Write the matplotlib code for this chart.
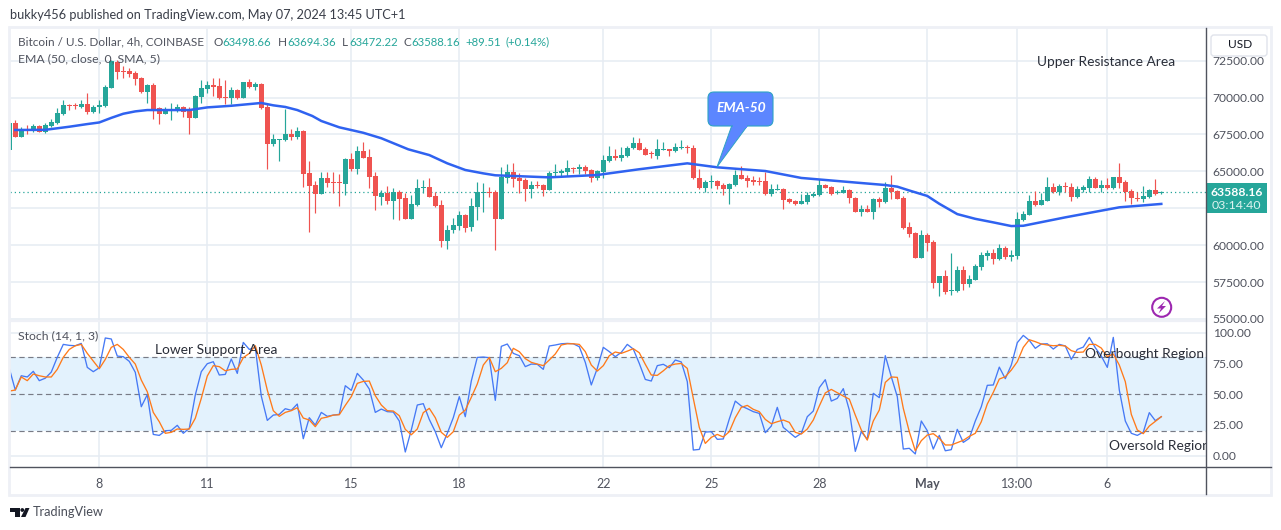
import numpy as np
import matplotlib
matplotlib.use("Agg")
import matplotlib.pyplot as plt
from matplotlib.patches import Circle, FancyBboxPatch, Polygon, Rectangle

# candle data, index -1 is the candle cut off at the left edge
opens = [66440,
    68270,67320,67850,67730,68070,67660,68070,68270,68880,
    69490,69490,69360,69560,69020,69330,69420,70640,72410,71800,
    71800,71660,71320,70370,70850,69290,68880,69090,69090,69360,
    69150,68610,70030,70580,70850,70780,70030,69970,70510,69970,
    71050,70710,70920,69360,66850,67120,67120,67530,67320,67730,
    64880,64070,63460,64550,64270,64270,64140,65830,65160,66370,
    65970,64680,63260,63530,62990,63600,63190,61770,62720,63870,
    63940,63330,62720,60280,61020,61290,62040,61230,62580,63530,
    63600,63600,61770,64550,64950,64550,64410,63800,64070,64070,
    63730,64880,64880,64950,65220,65160,65290,65090,64550,64950,
    65700,66030,65900,66030,66580,66920,66510,66240,66030,66440,
    66510,66370,66580,66640,66580,64550,63870,64270,64340,64070,
    63800,64070,64750,64550,64410,64340,64340,63460,63730,63800,
    63120,62990,62790,62920,63330,63390,64070,63940,63530,63530,
    63730,63190,62240,62450,62240,63120,62920,63870,63670,63190,
    61230,60820,59130,60690,60210,57430,57910,56890,56890,58310,
    57360,57640,58520,59260,59470,59060,59800,59190,59260,61700,
    62040,62990,62720,62990,63940,63600,64000,63940,63260,63730,
    63870,64480,63870,64070,63870,64610,64270,63670,63190,63120,
    63260,63730,63498.66]
highs = [68270,
    68480,68000,68140,68200,68140,68270,68540,69290,69830,
    69530,69600,69860,70300,69490,69830,70850,72540,72540,72130,
    72000,71800,71390,70920,70980,69360,69360,69630,69560,69420,
    69360,70170,71190,71120,71320,71320,71190,70710,70580,71050,
    71250,71050,70980,69630,67530,67190,69220,67860,68000,67800,
    65700,64340,64950,64950,64950,64820,65900,66240,66710,66980,
    66510,64950,63730,64000,63870,63730,63530,63390,64480,64410,
    64550,63600,63060,61360,61840,62310,62110,63190,64270,64210,
    63940,63730,65290,65490,65560,64880,64550,64340,64340,64140,
    65020,65490,65160,65770,65290,65490,65430,65160,65090,66100,
    66710,66510,66640,66710,67320,67250,66640,66370,67190,66980,
    66510,66920,67120,66780,66780,65160,64410,64750,64410,64210,
    64210,65090,65360,64750,64680,64610,64950,64140,64140,63870,
    63190,63060,63460,63600,63600,64480,64140,64000,63730,64000,
    63800,63260,62720,62720,63190,63260,64270,64750,63730,63330,
    61570,60890,61020,60820,60350,57910,58310,59470,58580,58580,
    57970,58720,59530,59670,59740,60080,59940,59670,62240,62310,
    63390,63670,63530,64610,64210,64140,64270,64210,64000,64070,
    64680,64610,64410,64550,64610,65560,64410,63800,63600,64000,
    63800,64480,63694.36]
lows = [66440,
    67320,67320,67530,67660,67660,67590,68000,68200,68810,
    69150,69220,69290,68880,68950,68950,69360,70640,71250,71320,
    71390,70850,70300,69630,68540,68200,68880,68480,69020,68680,
    67530,68610,69630,70300,70100,69900,69560,69560,69900,69970,
    70640,70510,69220,65160,66710,65700,67050,67120,67190,63940,
    60890,62180,63460,63940,63530,62650,63390,65020,64820,65900,
    63870,62380,62720,62790,61770,61700,61770,61770,62650,63530,
    63260,62580,59870,59740,60820,61020,60890,60960,61700,62240,
    63260,59670,61770,64210,63940,63530,62990,63190,63870,63330,
    63730,64680,64680,64680,64880,64820,64820,64270,64410,64550,
    65630,65770,65700,65970,66510,66440,66100,65900,65830,66440,
    66030,66310,66510,66240,64480,63800,63600,63870,63800,63390,
    62790,64000,64480,63940,64070,64070,63390,63330,63730,62450,
    62850,62720,62790,62790,63260,63330,63870,63390,63460,63530,
    62850,62240,61970,62240,61770,62580,62850,63120,63120,61090,
    60550,59130,59130,59600,57090,56550,56690,56620,56820,56960,
    57160,57640,58310,58990,58720,58990,59060,58920,59060,61630,
    62040,62650,62720,62990,63530,63390,63600,62990,63190,63600,
    63600,63870,63600,63800,63800,63870,62990,62790,62990,62920,
    63190,63390,63472.22]
closes = [68270,
    67320,67860,67800,68070,67660,68140,68340,68950,69490,
    69420,69420,69560,69020,69360,69490,70710,72440,71730,71730,
    71590,71250,70370,70850,69220,68880,69150,69150,69360,69020,
    68610,70100,70640,70850,70710,69970,69980,70510,69970,71050,
    70710,70920,69290,66850,67190,67190,67530,67320,67730,64850,
    64000,63460,64550,64210,64220,64220,65830,65160,66370,65900,
    64610,63330,63530,62990,63600,63120,61770,62790,63870,63940,
    63260,62650,60280,61020,61360,62040,61160,62650,63600,63600,
    63530,61770,64610,64950,64480,64340,63800,64070,64010,63730,
    64880,64950,65020,65220,65160,65290,65020,64550,65020,65770,
    66030,65900,66100,66580,66920,66440,66100,66170,66510,66510,
    66370,66640,66640,66580,64550,63870,64270,64340,64000,63800,
    64140,64750,64480,64340,64270,64280,63460,63800,63800,63060,
    62920,62790,62990,63390,63460,64070,63870,63460,63600,63730,
    63190,62240,62450,62240,63120,62920,63870,63600,63120,61160,
    60750,59130,60690,60140,57430,57910,56820,56960,58310,57360,
    57700,58580,59330,59470,59060,59800,59190,59330,61770,62110,
    62990,62720,63060,63940,63600,64000,63940,63260,63800,63940,
    64480,63870,64070,63870,64610,64210,63600,63190,63130,63330,
    63730,63460,63588.16]

# EMA 50, read at the bends
ema_idx = [0,5,9,12,14,16,18,20,22,29,32,36,41,43,45,47,49.5,51,54,58,61,65.5,69,72,75,78,80,
           89,97,104,112,117,125,131,140,145,147,149,152,154,157,160,163,166,168,175,184,191]
ema_val = [67800,67810,68020,68200,68310,68620,68900,69060,69150,69150,69330,69440,69630,69470,
           69360,69150,68750,68410,67980,67610,67240,66490,66100,65540,65090,64860,64730,
           64590,64750,65140,65540,65270,65020,64550,64240,64070,63960,63700,63330,62800,
           62100,61780,61540,61290,61310,61880,62560,62790]

stoch_k = [71,
    53.4,65,64,68.6,61,63,68,80,90.5,
    89.7,89.4,91.3,71.8,68.3,71.5,95.7,94.9,81,80.5,
    76.7,67.8,39.8,49.6,17.3,16.5,20.3,20.6,24.7,18.2,
    22.2,49.3,68.3,74.8,76.4,65.6,66.1,78.6,66.9,92.1,
    86.4,88.1,48.5,28.7,33,33.6,38.2,36.9,42,13.8,
    30.9,24.9,35.2,32,33,33.6,56.9,53.1,66.9,61.5,
    54.2,35.2,37.9,35.8,35.5,28.2,3,20.9,41.2,42.3,
    29.5,19.5,6.5,18.2,30.9,48,31.7,60.7,79.9,80.2,
    79.7,45,88.9,90.8,83.2,81.3,72.4,74.5,74.3,70.2,
    89.2,90,91,91.3,91,88.6,75.9,57.5,71,88.1,
    84.6,80.5,84,90.5,86.7,75,62,60.7,73.2,74.3,
    71.5,77.8,76.2,60.2,4.6,5.1,19.2,19.5,13.3,13.6,
    29.8,44.4,40.4,38.2,35.8,34.4,18.7,24.1,39.3,23,
    19,14.9,18.2,31.7,36.3,55.3,61.8,44.4,46.6,54.5,
    37.1,3.5,19.5,13.3,50.7,47.2,81.3,64.2,48,5.4,
    6,1.4,28.2,20.3,5.4,16.5,4,4.9,21.4,10.8,
    14.1,28.2,39.8,57.2,57.5,72,62.6,73.7,91.9,97.8,
    93.8,87.3,90.8,91,86.7,90.5,89.2,78.3,86.4,88.3,
    96.2,87.8,81,71.8,96.2,53.4,28.2,18.2,16.5,19.2,
    35,28.5,31.7]
stoch_d = [52.5,
    53.4,64,61,66.4,65,64,64,70.2,80,
    86.4,89.4,90.5,83.2,77,70.7,78.3,88.1,90.5,86.4,
    80,74.5,61.5,52,35.2,27.6,18.2,19,21.7,21.4,
    21.7,30.4,46.6,64.8,73.2,72.4,69,70.2,70.5,79.7,
    83.2,89.4,73.7,53.4,36.6,32,35.2,36.6,39,30.6,
    29,23.6,30.4,31.4,33,33.3,40.9,48,58.8,60.4,
    60.7,48.8,41.2,36.6,36.3,32.5,21.4,17,21.7,35,
    38.5,30.9,19,14.9,19.5,33,37.1,47.4,58.3,73.7,
    79.9,68.3,71,75.6,87.3,84.6,78.9,75.9,74.5,73.2,
    77.8,82.7,90,91,91,90.5,84.6,73.7,68.8,73.2,
    81.3,84.3,83.2,85,87,83.7,74.3,65.6,65.3,69,
    73.2,74.5,75,71,46.6,23,10,14.9,17.3,15.2,
    19.5,30.9,39.3,40.9,37.7,35.8,29.5,26,27.6,29,
    27.1,19,17.6,21.7,29,40.4,51,53.9,51.2,48.5,
    46,33,20.9,12.7,28.2,37.1,59.6,64,63.7,38.5,
    19.5,4,12.2,16.8,17.9,14.1,8.7,8.7,10.6,12.5,
    15.7,18.2,27.6,42,51.5,62.3,64.2,69.6,76.4,88.1,
    94.3,92.7,90.8,90,89.4,89.7,89.2,85.4,84,84.3,
    90.5,90.5,87.5,80.5,82.7,73.7,60.2,33.6,20.9,17.9,
    24.1,27.9,31.7]

price_ticks = [55000,57500,60000,62500,65000,67500,70000,72500]
price_labels = ["55000.00","57500.00","60000.00","","65000.00","67500.00","70000.00","72500.00"]
stoch_ticks = [0,25,50,75,100]
time_pos = [14,32,56,74,98,116,134,152,167,182]
time_labels = ["8","11","15","18","22","25","28","May","13:00","6"]

W, H = 1281, 530
UP = "#26A69A"
DOWN = "#EF5350"
GRID = "#E6ECF3"
TEXT = "#50535E"
FRAME = "#EEF0F6"
plt.rcParams["font.family"] = "Lato"


def ax_px(left, top, right, bottom):
    return fig.add_axes([left / W, 1 - bottom / H, (right - left) / W, (bottom - top) / H])


fig = plt.figure(figsize=(W / 100, H / 100), dpi=100, facecolor="white")
main = ax_px(10, 28, 1205.7, 320)
stoch = ax_px(10, 322, 1205.7, 467)
xlim = (-0.88, 198.4)

idx = np.arange(-1, len(opens) - 1)
o, h, l, c = map(np.array, (opens, highs, lows, closes))
colors = [UP if cc >= oo else DOWN for oo, cc in zip(o, c)]

# candles
main.vlines(idx, l, h, colors=colors, linewidth=0.85, zorder=3)
main.bar(idx, np.maximum(np.abs(c - o), 68), bottom=np.minimum(o, c), width=0.88,
         color=colors, linewidth=0, zorder=3)
main.plot(ema_idx, ema_val, color="#2F62F0", lw=1.8, zorder=4, solid_joinstyle="round")
main.axhline(closes[-1], color=UP, lw=0.9, ls=(0, (1, 2.4)), zorder=2)
main.set_xlim(xlim)
main.set_ylim(54926, 74709)
main.set_yticks(price_ticks)
main.set_yticklabels(price_labels)

# stochastic pane
stoch.axhspan(20, 80, color="#E3F2FD", lw=0, zorder=1)
for level in [20, 50, 80]:
    stoch.axhline(level, color="#787B86", lw=0.85, ls=(0, (4.5, 3)), zorder=2)
stoch.plot(idx, stoch_k, color="#4679F5", lw=0.95, zorder=3)
stoch.plot(idx, stoch_d, color="#FF7A1A", lw=0.95, zorder=4)
stoch.set_xlim(xlim)
stoch.set_ylim(-9.2, 108.7)
stoch.set_yticks(stoch_ticks)
stoch.set_yticklabels(["%.2f" % v for v in stoch_ticks])
stoch.set_xticks(time_pos)
stoch.set_xticklabels(time_labels)
for lab in stoch.get_xticklabels():
    if lab.get_text() == "May":
        lab.set_fontweight("bold")

for ax in (main, stoch):
    for s in ax.spines.values():
        s.set_visible(False)
    ax.yaxis.tick_right()
    ax.set_axisbelow(True)
    ax.set_xticks(time_pos)
    ax.grid(True, color=GRID, lw=1.1)
    ax.tick_params(axis="both", length=0, labelsize=8.7, labelcolor=TEXT, pad=5)
main.tick_params(axis="x", labelbottom=False)
stoch.tick_params(axis="x", labelsize=9, pad=8)

stoch.text(182.3, 8.0, "Oversold Region", fontsize=9.9, color="#2A2E39", va="center", clip_on=True, zorder=6)

# overlay in pixels for frame, legend texts and drawings
ov = fig.add_axes([0, 0, 1, 1], zorder=10)
ov.set_xlim(0, W)
ov.set_ylim(H, 0)
ov.axis("off")
ov.patch.set_alpha(0)

ov.add_patch(Rectangle((9, 27), 1262, 468, fill=False, ec=FRAME, lw=2))
ov.plot([10, 1205.7], [321, 321], color=FRAME, lw=1.6)
ov.plot([10, 1271], [467, 467], color=TEXT, lw=1)
ov.plot([1205.7, 1205.7], [28, 494], color=TEXT, lw=1)


def label(x, y, s, color=TEXT, size=8.8, **kw):
    ov.text(x, y, s, color=color, fontsize=size, va="center", **kw)


label(10, 15, "bukky456 published on TradingView.com, May 07, 2024 13:45 UTC+1", color="#3A3E49", size=9.15)
label(18, 42, "Bitcoin / U.S. Dollar, 4h, COINBASE", size=8.5)
label(18, 59, "EMA (50, close, 0, SMA, 5)")
label(18, 336, "Stoch (14, 1, 3)")
for x, s in [(213, "O"), (278, "H"), (342, "L"), (403, "C")]:
    label(x, 42, s, size=8.5)
for x, s in [(222, "63498.66"), (287, "63694.36"), (349, "63472.22"), (411, "63588.16"),
             (465, "+89.51"), (505, "(+0.14%)")]:
    label(x, 42, s, color=UP, size=8.2)

label(1037, 61.5, "Upper Resistance Area", color="#2A2E39", size=9.9)
label(155, 350.5, "Lower Support Area", color="#2A2E39", size=9.9)
label(1085, 353.5, "Overbought Region", color="#2A2E39", size=9.9)

# price tag
ov.add_patch(Rectangle((1206, 183), 61, 30, color=UP, lw=0))
label(1236.5, 192, "63588.16", color="white", size=8.7, fontweight="bold", ha="center")
label(1236.5, 205.5, "03:14:40", color="#DDF3F0", size=8.9, ha="center")

# USD button
ov.add_patch(FancyBboxPatch((1211, 35), 56, 21, boxstyle="round,pad=0,rounding_size=3", fc="white", ec="#E0E3EB", lw=1))
label(1228, 45, "USD", color="#131722", size=8.6)

# EMA-50 callout
ov.add_patch(Polygon([(732, 125), (717, 167), (748, 125)], fc="#5C86FF", ec="#2EA3C4", lw=0.7, zorder=7))
ov.add_patch(FancyBboxPatch((708, 92), 65, 34, boxstyle="round,pad=0,rounding_size=6", fc="#5C86FF", ec="#2EA3C4", lw=0.8, zorder=7))
ov.add_patch(Rectangle((733, 122), 14, 6, fc="#5C86FF", lw=0, zorder=8))
ov.text(741, 108, "EMA-50", color="white", fontsize=10, style="italic", fontweight="bold", ha="center", va="center", zorder=9)

# lightning badge
ov.add_patch(Circle((1161.7, 307.3), 9.5, fill=False, ec="#9C27B0", lw=1.5))
ov.add_patch(Polygon([(1165, 301), (1157, 308.5), (1161, 308.5), (1158.5, 313.5), (1166, 306), (1162, 306)], fc="#9C27B0", lw=0))

# TradingView logo
logo = "#131722"
ov.add_patch(Polygon([(10, 508), (19.5, 508), (19.5, 517), (15, 517), (15, 512), (10, 512)], fc=logo, lw=0))
ov.add_patch(Circle((22.3, 510), 1.9, fc=logo, lw=0))
ov.add_patch(Polygon([(25.5, 508), (29.5, 508), (25.5, 517), (21, 517)], fc=logo, lw=0))
label(33, 512, "TradingView", color="#4A4E59", size=9.2)

fig.savefig("out.png", dpi=100)
